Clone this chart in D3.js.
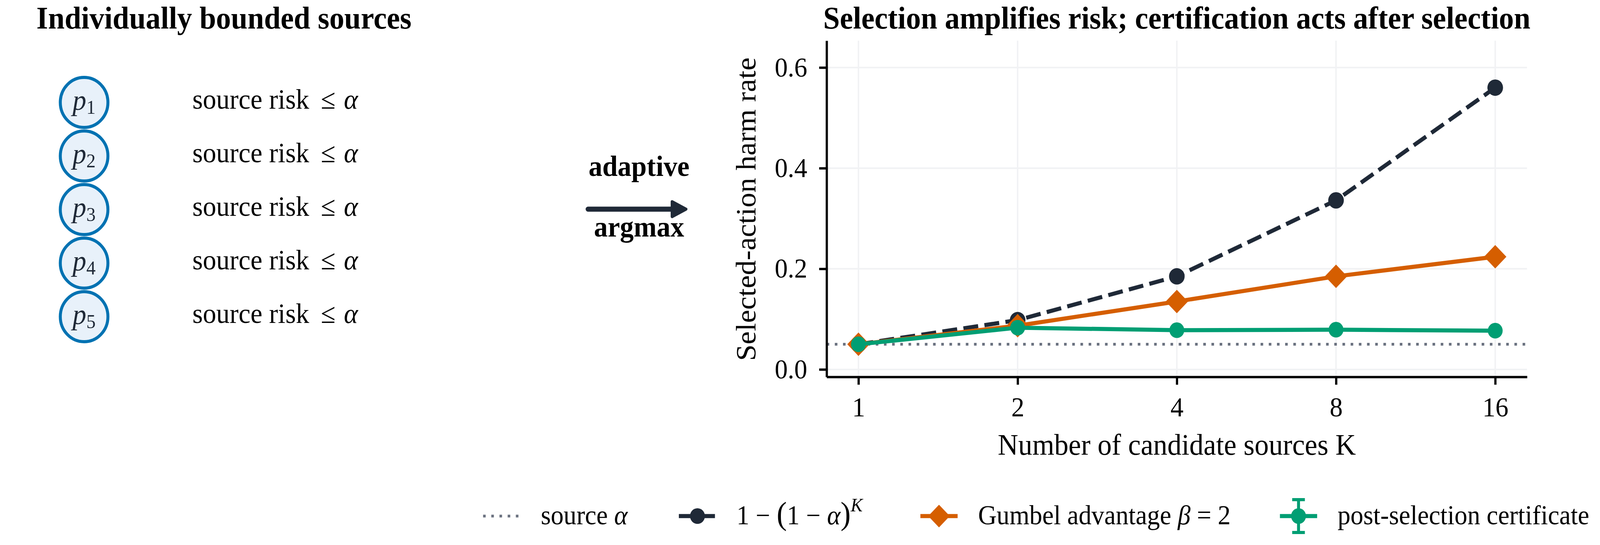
<!DOCTYPE html>
<html>
<head>
<meta charset="utf-8">
<script src="https://cdn.jsdelivr.net/npm/d3@7"></script>
<style>
  html, body { margin: 0; padding: 0; background: #fff; overflow: hidden; }
  svg { position: fixed; top: 0; left: 0; width: 100vw; height: 100vh; display: block;
        font-family: "Liberation Serif", "Times New Roman", serif; }
</style>
</head>
<body>
<div id="container"></div>
<script>
// ---- data ----
const kValues = [1, 2, 4, 8, 16];
const unionRisk = [0.05, 0.098, 0.185, 0.336, 0.560];      // 1-(1-a)^K
const gumbelRisk = [0.05, 0.087, 0.135, 0.185, 0.224];     // Gumbel advantage beta=2
const certRisk = [0.05, 0.083, 0.078, 0.079, 0.077];       // post-selection certificate
const certErr = [0.004, 0.005, 0.005, 0.005, 0.005];
const sourceAlpha = 0.05;
const yTicks = [0.0, 0.2, 0.4, 0.6];
const sourceLabels = ["1", "2", "3", "4", "5"];

const w = 4299;
const h = 1394;
const ink = "#1f2937";
const cBlack = "#1f2937";
const cOrange = "#d55e00";
const cGreen = "#009e73";
const cGray = "#6b7280";
const cGrid = "#f1f2f4";

const svg = d3.select("#container").append("svg")
  .attr("viewBox", `0 0 ${w} ${h}`)
  .attr("preserveAspectRatio", "none");

// ---- left panel: individually bounded sources ----
svg.append("text")
  .attr("x", 98).attr("y", 73)
  .attr("font-size", 80).attr("font-weight", "bold")
  .text("Individually bounded sources");

const rowY = d3.scalePoint().domain(sourceLabels).range([262, 810]);

const rows = svg.append("g").selectAll("g")
  .data(sourceLabels).enter().append("g")
  .attr("transform", d => `translate(0,${rowY(d)})`);

rows.append("circle")
  .attr("cx", 226).attr("cy", 0).attr("r", 64)
  .attr("fill", "#e8f1fa").attr("stroke", "#0072b2").attr("stroke-width", 8);

const pl = rows.append("text")
  .attr("x", 226).attr("y", 19)
  .attr("text-anchor", "middle")
  .attr("fill", ink).attr("font-size", 74);
pl.append("tspan").attr("font-style", "italic").text("p");
pl.append("tspan").attr("font-size", 50).attr("dy", 10).text(d => d);

const rt = rows.append("text")
  .attr("x", 517).attr("y", 16)
  .attr("font-size", 72);
rt.append("tspan").text("source risk");
rt.append("tspan").attr("x", 862).text("≤");
rt.append("tspan").attr("x", 924).attr("font-style", "italic").text("α");

// ---- arrow ----
svg.append("text").attr("x", 1717).attr("y", 450)
  .attr("text-anchor", "middle").attr("font-size", 74).attr("font-weight", "bold")
  .text("adaptive");
svg.append("text").attr("x", 1717).attr("y", 605)
  .attr("text-anchor", "middle").attr("font-size", 74).attr("font-weight", "bold")
  .text("argmax");
svg.append("line")
  .attr("x1", 1580).attr("x2", 1812).attr("y1", 535).attr("y2", 535)
  .attr("stroke", ink).attr("stroke-width", 13).attr("stroke-linecap", "round");
svg.append("path")
  .attr("d", "M1806,516 L1843,535 L1806,554 Z")
  .attr("fill", ink).attr("stroke", ink).attr("stroke-width", 8)
  .attr("stroke-linejoin", "round");

// ---- right panel: chart ----
const x = d3.scaleLog().base(2)
  .domain([Math.pow(2, -0.2), Math.pow(2, 4.2)])
  .range([2221, 4103]);
const y = d3.scaleLinear()
  .domain([-0.0148, 0.6534])
  .range([964, 104]);

const [x0, x1] = x.range();
const [yb, yt] = y.range();

// grid
const grid = svg.append("g");
grid.selectAll("line.gy").data(yTicks).enter().append("line")
  .attr("x1", x0).attr("x2", x1)
  .attr("y1", d => y(d)).attr("y2", d => y(d))
  .attr("stroke", cGrid).attr("stroke-width", 4);
grid.selectAll("line.gx").data(kValues).enter().append("line")
  .attr("y1", yt).attr("y2", yb)
  .attr("x1", d => x(d)).attr("x2", d => x(d))
  .attr("stroke", cGrid).attr("stroke-width", 4);

// source alpha reference
svg.append("path")
  .datum(x.domain())
  .attr("d", d3.line().x(d => x(d)).y(() => y(sourceAlpha)))
  .attr("fill", "none").attr("stroke", cGray)
  .attr("stroke-width", 7).attr("stroke-dasharray", "7,15");

const line = d3.line().x(d => x(d[0])).y(d => y(d[1]));
const pairs = vals => kValues.map((k, i) => [k, vals[i]]);

// 1-(1-a)^K
svg.append("path").datum(pairs(unionRisk))
  .attr("d", line).attr("fill", "none")
  .attr("stroke", cBlack).attr("stroke-width", 10.5)
  .attr("stroke-dasharray", "40,17");
svg.append("g").selectAll("circle").data(pairs(unionRisk)).enter().append("circle")
  .attr("cx", d => x(d[0])).attr("cy", d => y(d[1])).attr("r", 21)
  .attr("fill", cBlack);

// Gumbel
function diamond(cx, cy, s) {
  return `M${cx},${cy - s}L${cx + s},${cy}L${cx},${cy + s}L${cx - s},${cy}Z`;
}
svg.append("path").datum(pairs(gumbelRisk))
  .attr("d", line).attr("fill", "none")
  .attr("stroke", cOrange).attr("stroke-width", 10.5)
  .attr("stroke-linejoin", "round");
svg.append("g").selectAll("path").data(pairs(gumbelRisk)).enter().append("path")
  .attr("d", d => diamond(x(d[0]), y(d[1]), 30))
  .attr("fill", cOrange);

// certificate
const certG = svg.append("g");
certG.append("path").datum(pairs(certRisk))
  .attr("d", line).attr("fill", "none")
  .attr("stroke", cGreen).attr("stroke-width", 10.5)
  .attr("stroke-linejoin", "round");
const eb = certG.append("g").selectAll("g").data(pairs(certRisk)).enter().append("g");
eb.append("line")
  .attr("x1", d => x(d[0])).attr("x2", d => x(d[0]))
  .attr("y1", (d, i) => y(d[1] - certErr[i])).attr("y2", (d, i) => y(d[1] + certErr[i]))
  .attr("stroke", cGreen).attr("stroke-width", 8);
eb.append("circle")
  .attr("cx", d => x(d[0])).attr("cy", d => y(d[1])).attr("r", 20)
  .attr("fill", cGreen);

// axes
const yAxis = svg.append("g")
  .attr("transform", `translate(${x0},0)`)
  .call(d3.axisLeft(y).tickValues(yTicks).tickFormat(d3.format(".1f"))
    .tickSize(20).tickSizeOuter(0).tickPadding(32));
const xAxis = svg.append("g")
  .attr("transform", `translate(0,${yb})`)
  .call(d3.axisBottom(x).tickValues(kValues).tickFormat(d3.format("d"))
    .tickSize(20).tickSizeOuter(0).tickPadding(31));
[yAxis, xAxis].forEach(a => {
  a.select(".domain").attr("stroke", "#000").attr("stroke-width", 6);
  a.selectAll(".tick line").attr("stroke", "#000").attr("stroke-width", 6);
  a.selectAll(".tick text").attr("fill", "#000")
    .attr("font-size", 70).attr("font-family", "Liberation Serif");
});

svg.append("text")
  .attr("transform", "translate(2030,535) rotate(-90)")
  .attr("text-anchor", "middle").attr("font-size", 76)
  .text("Selected-action harm rate");
svg.append("text")
  .attr("x", (x0 + x1) / 2).attr("y", 1163)
  .attr("text-anchor", "middle").attr("font-size", 76)
  .text("Number of candidate sources K");
svg.append("text")
  .attr("x", (x0 + x1) / 2).attr("y", 73)
  .attr("text-anchor", "middle").attr("font-size", 80).attr("font-weight", "bold")
  .text("Selection amplifies risk; certification acts after selection");

// ---- legend ----
const legY = 1320;
const handleLen = 100;
const legendX = [1298, 1824, 2473, 3439];
const legend = svg.append("g");

function legendItem(i, drawHandle, writeText) {
  const g = legend.append("g").attr("transform", `translate(${legendX[i]},${legY})`);
  drawHandle(g);
  const t = g.append("text").attr("x", handleLen + 55).attr("y", 21).attr("font-size", 69);
  writeText(t);
}

legendItem(0, g => {
  g.append("line").attr("x1", 0).attr("x2", handleLen)
    .attr("stroke", cGray).attr("stroke-width", 7).attr("stroke-dasharray", "7,15");
}, t => {
  t.append("tspan").text("source ");
  t.append("tspan").attr("font-style", "italic").text("α");
});

legendItem(1, g => {
  g.append("line").attr("x1", 0).attr("x2", handleLen)
    .attr("stroke", cBlack).attr("stroke-width", 10.5).attr("stroke-dasharray", "40,17");
  g.append("circle").attr("cx", handleLen / 2).attr("r", 20).attr("fill", cBlack);
}, t => {
  t.append("tspan").text("1 − ");
  t.append("tspan").attr("font-size", 82).text("(");
  t.append("tspan").text("1 − ");
  t.append("tspan").attr("font-style", "italic").text("α");
  t.append("tspan").attr("font-size", 82).text(")");
  t.append("tspan").attr("font-style", "italic").attr("font-size", 48).attr("dy", -33).text("K");
});

legendItem(2, g => {
  g.append("line").attr("x1", 0).attr("x2", handleLen)
    .attr("stroke", cOrange).attr("stroke-width", 10.5);
  g.append("path").attr("d", diamond(handleLen / 2, 0, 29)).attr("fill", cOrange);
}, t => {
  t.append("tspan").text("Gumbel advantage ");
  t.append("tspan").attr("font-style", "italic").text("β");
  t.append("tspan").text(" = 2");
});

legendItem(3, g => {
  g.append("line").attr("x1", 0).attr("x2", handleLen)
    .attr("stroke", cGreen).attr("stroke-width", 10.5);
  g.append("line").attr("x1", handleLen / 2).attr("x2", handleLen / 2)
    .attr("y1", -42).attr("y2", 42).attr("stroke", cGreen).attr("stroke-width", 8);
  [-42, 42].forEach(v => g.append("line")
    .attr("x1", handleLen / 2 - 17).attr("x2", handleLen / 2 + 17)
    .attr("y1", v).attr("y2", v).attr("stroke", cGreen).attr("stroke-width", 8));
  g.append("circle").attr("cx", handleLen / 2).attr("r", 20).attr("fill", cGreen);
}, t => {
  t.text("post-selection certificate");
});
</script>
</body>
</html>
